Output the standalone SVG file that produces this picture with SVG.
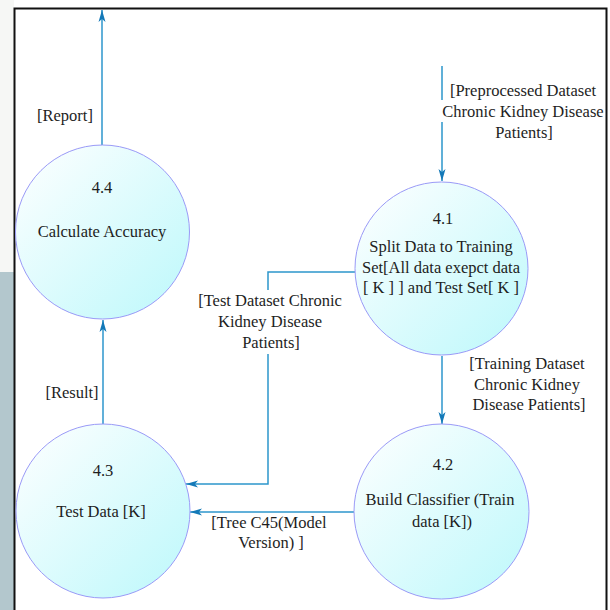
<svg xmlns="http://www.w3.org/2000/svg" width="610" height="610" viewBox="0 0 610 610" font-family="Liberation Serif, DejaVu Serif, serif">
<style>
.t{font-size:16.5px;fill:#1e1e1e;text-anchor:middle}
.c{stroke:#2c96cc;stroke-width:1.5;fill:none}
.n{stroke:#9a9af7;stroke-width:1;fill:url(#g)}
</style>
<defs>
<linearGradient id="g" x1="0" y1="0" x2="1" y2="1">
<stop offset="0" stop-color="#ffffff"/>
<stop offset="1" stop-color="#bcf8fb"/>
</linearGradient>
<marker id="a" viewBox="0 0 12 8" refX="12" refY="4" markerWidth="12" markerHeight="8" markerUnits="userSpaceOnUse" orient="auto">
<path d="M0,0.5 L3,4 L0,7.5 L12,4 z" fill="#1479b8"/>
</marker>
</defs>
<rect x="0" y="0" width="610" height="610" fill="#ffffff"/>
<rect x="0" y="0" width="14" height="272" fill="#f6f7f5"/>
<rect x="0" y="272" width="14" height="338" fill="#b3c7cd"/>
<path d="M14.5 610 V8.5 H606.5 V610" fill="none" stroke="#111" stroke-width="2"/>

<g id="connectors" font-family="Liberation Serif, serif">
<path class="c" d="M102 145 V10" marker-end="url(#a)"/>
<path class="c" d="M103 424 V320" marker-end="url(#a)"/>
<path class="c" d="M442 66 V100 M442 122 V181" marker-end="url(#a)"/>
<path class="c" d="M442 356 V424" marker-end="url(#a)"/>
<path class="c" d="M355 272 H268 V290 M268 354 V484 H186" marker-end="url(#a)"/>
<path class="c" d="M354 512 H190" marker-end="url(#a)"/>
<text class="t" x="65" y="121">[Report]</text>
<text class="t" x="72" y="398">[Result]</text>
<text class="t" x="523" y="96">[Preprocessed Dataset</text>
<text class="t" x="523" y="117">Chronic Kidney Disease</text>
<text class="t" x="524" y="138">Patients]</text>
<text class="t" x="527" y="369">[Training Dataset</text>
<text class="t" x="527" y="390">Chronic Kidney</text>
<text class="t" x="529" y="410">Disease Patients]</text>
<text class="t" x="270" y="306">[Test Dataset Chronic</text>
<text class="t" x="270" y="327">Kidney Disease</text>
<text class="t" x="271" y="348">Patients]</text>
<text class="t" x="269" y="528">[Tree C45(Model</text>
<text class="t" x="271" y="548">Version) ]</text>
</g>

<g id="n44" font-family="Liberation Serif, serif">
<circle class="n" cx="102.5" cy="232" r="87"/>
<text class="t" x="102" y="193">4.4</text>
<text class="t" x="102" y="237">Calculate Accuracy</text>
</g>
<g id="n43" font-family="Liberation Serif, serif">
<circle class="n" cx="103" cy="511" r="87"/>
<text class="t" x="103" y="476">4.3</text>
<text class="t" x="101" y="517">Test Data [K]</text>
</g>
<g id="n41" font-family="Liberation Serif, serif">
<circle class="n" cx="441.5" cy="268.5" r="86.5"/>
<text class="t" x="443" y="224">4.1</text>
<text class="t" x="441" y="252">Split Data to Training</text>
<text class="t" x="441" y="273">Set[All data exepct data</text>
<text class="t" x="441" y="293">[ K ] ] and Test Set[ K ]</text>
</g>
<g id="n42" font-family="Liberation Serif, serif">
<circle class="n" cx="441.5" cy="511.5" r="87.5"/>
<text class="t" x="443" y="470">4.2</text>
<text class="t" x="440" y="505">Build Classifier (Train</text>
<text class="t" x="442" y="527">data [K])</text>
</g>
</svg>
